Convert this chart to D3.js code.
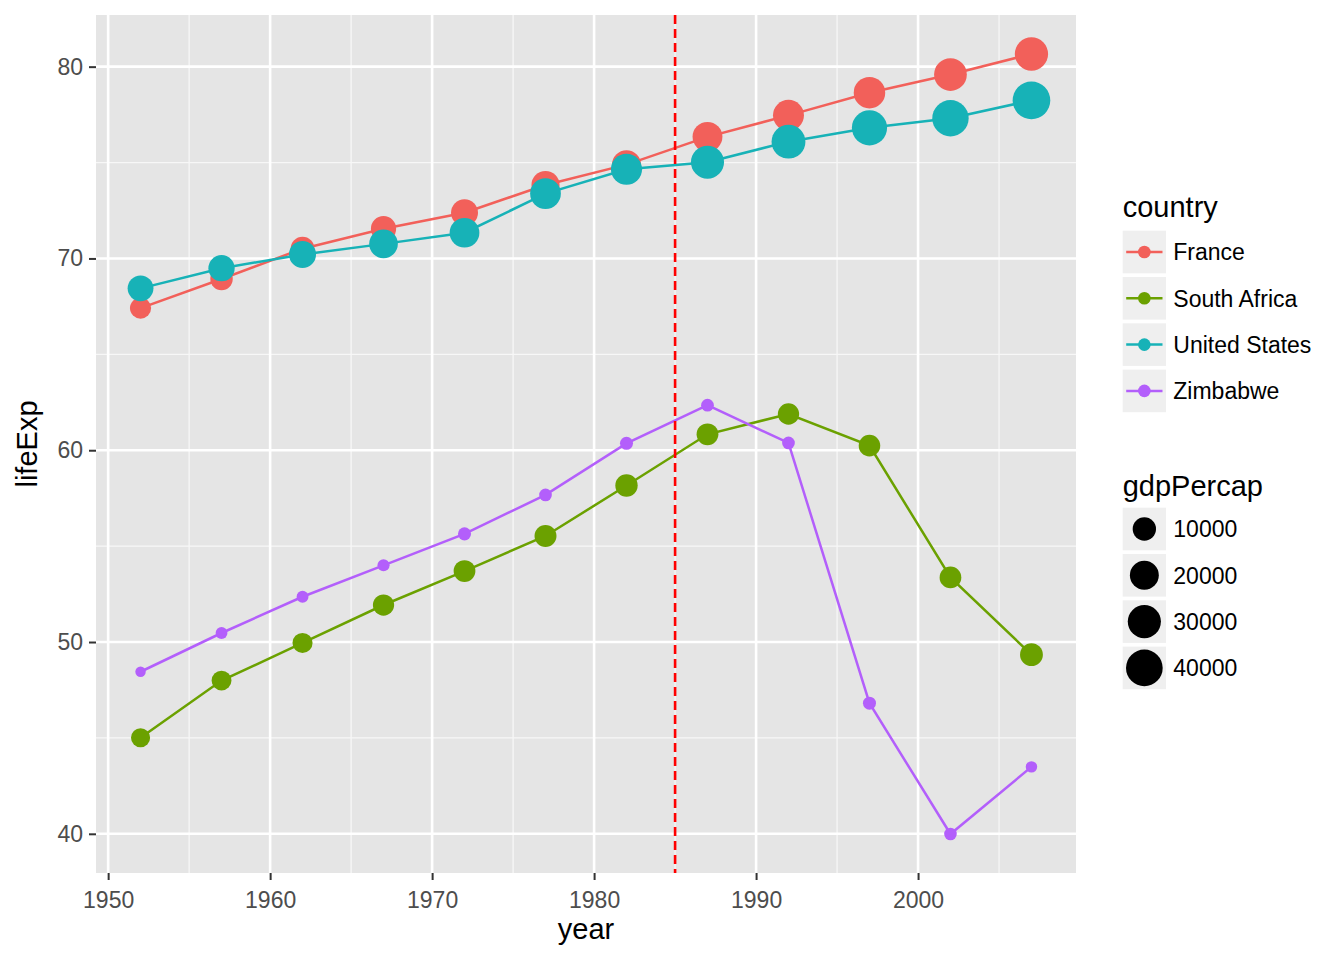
<!DOCTYPE html>
<html>
<head>
<meta charset="utf-8">
<script src="https://cdn.jsdelivr.net/npm/d3@7"></script>
<style>
  body { margin: 0; background: #fff; }
  text { font-family: "Liberation Sans", Arial, sans-serif; }
  .tick text { fill: #4D4D4D; font-size: 23px; }
  .tick line { stroke: #333333; stroke-width: 2px; }
</style>
</head>
<body>
<div id="chart"></div>
<script>
var svgWidth = 1344;
var svgHeight = 960;

// gapminder data, one array per series
var years = [1952, 1957, 1962, 1967, 1972, 1977, 1982, 1987, 1992, 1997, 2002, 2007];
var countries = ["France", "South Africa", "United States", "Zimbabwe"];
var colors = ["#F2605A", "#6BA100", "#17B2B7", "#B35FFB"];

var lifeExpFrance = [67.41, 68.93, 70.51, 71.55, 72.38, 73.83, 74.89, 76.34, 77.46, 78.64, 79.59, 80.66];
var lifeExpSouthAfrica = [45.01, 47.99, 49.95, 51.93, 53.70, 55.53, 58.16, 60.83, 61.89, 60.24, 53.37, 49.34];
var lifeExpUS = [68.44, 69.49, 70.21, 70.76, 71.34, 73.38, 74.65, 75.02, 76.09, 76.81, 77.31, 78.24];
var lifeExpZimbabwe = [48.45, 50.47, 52.36, 54.00, 55.64, 57.67, 60.36, 62.35, 60.38, 46.81, 39.99, 43.49];

var gdpFrance = [7030, 8663, 10560, 13000, 16107, 18293, 20294, 22066, 24704, 25890, 28926, 30470];
var gdpSouthAfrica = [4725, 5487, 5769, 7114, 7766, 8029, 8568, 7826, 7225, 7479, 7711, 9270];
var gdpUS = [13990, 14847, 16173, 19530, 21806, 24073, 25010, 29884, 32004, 35767, 39097, 42952];
var gdpZimbabwe = [407, 519, 527, 570, 799, 686, 789, 706, 693, 792, 672, 470];

var sizeBreaks = [10000, 20000, 30000, 40000];
var xTicks = [1950, 1960, 1970, 1980, 1990, 2000];
var yTicks = [40, 50, 60, 70, 80];
var vlineYear = 1985;

var lifeExps = [lifeExpFrance, lifeExpSouthAfrica, lifeExpUS, lifeExpZimbabwe];
var gdps = [gdpFrance, gdpSouthAfrica, gdpUS, gdpZimbabwe];

var series = countries.map(function(c, i) {
  return {
    country: c,
    color: colors[i],
    values: years.map(function(yr, j) {
      return { year: yr, lifeExp: lifeExps[i][j], gdp: gdps[i][j] };
    })
  };
});

var panel = { left: 96, right: 1076, top: 15, bottom: 873 };

var svg = d3.select("#chart")
  .append("svg")
  .attr("width", svgWidth)
  .attr("height", svgHeight);

// scales with ggplot-style 5% padding
function padded(ext) {
  var pad = (ext[1] - ext[0]) * 0.05;
  return [ext[0] - pad, ext[1] + pad];
}
var allLife = d3.merge(lifeExps);
var allGdp = d3.merge(gdps);

var xScale = d3.scaleLinear()
  .domain(padded(d3.extent(years)))
  .range([panel.left, panel.right]);

var yScale = d3.scaleLinear()
  .domain(padded(d3.extent(allLife)))
  .range([panel.bottom, panel.top]);

// area-style size scale: gdp -> [0,1] -> sqrt -> ggplot size 1..6
var gdpNorm = d3.scaleLinear().domain(d3.extent(allGdp)).range([0, 1]);
var sizeScale = d3.scaleSqrt().domain([0, 1]).range([1, 6]);
function radius(g) {
  return 2.72 * sizeScale(gdpNorm(g)) + 2.5;
}

// panel background
svg.append("rect")
  .attr("x", panel.left)
  .attr("y", panel.top)
  .attr("width", panel.right - panel.left)
  .attr("height", panel.bottom - panel.top)
  .attr("fill", "#E5E5E5");

// minor gridlines
var xMinor = xTicks.map(function(t) { return t + 5; }).filter(function(t) { return xScale(t) < panel.right; });
var yMinor = yTicks.map(function(t) { return t + 5; }).filter(function(t) { return yScale(t) > panel.top; });

var grid = svg.append("g");
grid.selectAll(".xminor").data(xMinor).enter().append("line")
  .attr("x1", d => xScale(d)).attr("x2", d => xScale(d))
  .attr("y1", panel.top).attr("y2", panel.bottom)
  .attr("stroke", "#F7F7F7").attr("stroke-width", 1.3);
grid.selectAll(".yminor").data(yMinor).enter().append("line")
  .attr("y1", d => yScale(d)).attr("y2", d => yScale(d))
  .attr("x1", panel.left).attr("x2", panel.right)
  .attr("stroke", "#F7F7F7").attr("stroke-width", 1.3);

// major gridlines
grid.selectAll(".xmajor").data(xTicks).enter().append("line")
  .attr("x1", d => xScale(d)).attr("x2", d => xScale(d))
  .attr("y1", panel.top).attr("y2", panel.bottom)
  .attr("stroke", "#fff").attr("stroke-width", 2.6);
grid.selectAll(".ymajor").data(yTicks).enter().append("line")
  .attr("y1", d => yScale(d)).attr("y2", d => yScale(d))
  .attr("x1", panel.left).attr("x2", panel.right)
  .attr("stroke", "#fff").attr("stroke-width", 2.6);

// axes
var bottomAxis = d3.axisBottom(xScale).tickValues(xTicks).tickSize(7).tickPadding(5).tickFormat(d3.format("d"));
var leftAxis = d3.axisLeft(yScale).tickValues(yTicks).tickSize(7).tickPadding(6);

var xAxis = svg.append("g")
  .attr("transform", `translate(0, ${panel.bottom})`)
  .call(bottomAxis);
xAxis.select(".domain").remove();
xAxis.selectAll(".tick text").attr("dy", "1.0em");

var yAxis = svg.append("g")
  .attr("transform", `translate(${panel.left}, 0)`)
  .call(leftAxis);
yAxis.select(".domain").remove();

// lines
var line = d3.line()
  .x(d => xScale(d.year))
  .y(d => yScale(d.lifeExp));

svg.append("g").selectAll("path")
  .data(series)
  .enter()
  .append("path")
  .attr("d", d => line(d.values))
  .attr("fill", "none")
  .attr("stroke", d => d.color)
  .attr("stroke-width", 2.5);

// points
var pointGroups = svg.append("g").selectAll("g")
  .data(series)
  .enter()
  .append("g")
  .attr("fill", d => d.color);

pointGroups.selectAll("circle")
  .data(d => d.values)
  .enter()
  .append("circle")
  .attr("cx", d => xScale(d.year))
  .attr("cy", d => yScale(d.lifeExp))
  .attr("r", d => radius(d.gdp));

// vertical dashed line
svg.append("line")
  .attr("x1", xScale(vlineYear)).attr("x2", xScale(vlineYear))
  .attr("y1", panel.top).attr("y2", panel.bottom)
  .attr("stroke", "#FF0000")
  .attr("stroke-width", 2.6)
  .attr("stroke-dasharray", "9,5");

// axis titles
svg.append("text")
  .attr("x", (panel.left + panel.right) / 2)
  .attr("y", 939)
  .attr("text-anchor", "middle")
  .attr("font-size", "29px")
  .text("year");

svg.append("text")
  .attr("transform", `translate(37, ${(panel.top + panel.bottom) / 2}) rotate(-90)`)
  .attr("text-anchor", "middle")
  .attr("font-size", "29px")
  .text("lifeExp");

// legends
var legendX = 1122.7;
var keyW = 43.3, keyH = 42.6, keyStep = 46.3;

var countryLegend = svg.append("g");
countryLegend.append("text")
  .attr("x", legendX).attr("y", 217)
  .attr("font-size", "29px")
  .text("country");

var cItems = countryLegend.selectAll(".citem")
  .data(series)
  .enter()
  .append("g")
  .attr("transform", (d, i) => `translate(${legendX}, ${230.7 + i * keyStep})`);

cItems.append("rect")
  .attr("width", keyW).attr("height", keyH)
  .attr("fill", "#EFEFEF");
cItems.append("line")
  .attr("x1", 3.5).attr("x2", keyW - 3.5)
  .attr("y1", keyH / 2).attr("y2", keyH / 2)
  .attr("stroke", d => d.color)
  .attr("stroke-width", 2.5);
cItems.append("circle")
  .attr("cx", keyW / 2).attr("cy", keyH / 2)
  .attr("r", 6.3)
  .attr("fill", d => d.color);
cItems.append("text")
  .attr("x", 50.6).attr("y", keyH / 2)
  .attr("dy", "0.36em")
  .attr("font-size", "23px")
  .text(d => d.country);

var sizeLegend = svg.append("g");
sizeLegend.append("text")
  .attr("x", legendX).attr("y", 496)
  .attr("font-size", "29px")
  .text("gdpPercap");

var sItems = sizeLegend.selectAll(".sitem")
  .data(sizeBreaks)
  .enter()
  .append("g")
  .attr("transform", (d, i) => `translate(${legendX}, ${507.7 + i * keyStep})`);

sItems.append("rect")
  .attr("width", keyW).attr("height", keyH)
  .attr("fill", "#EFEFEF");
sItems.append("circle")
  .attr("cx", keyW / 2).attr("cy", keyH / 2)
  .attr("r", d => radius(d))
  .attr("fill", "#000");
sItems.append("text")
  .attr("x", 50.6).attr("y", keyH / 2)
  .attr("dy", "0.36em")
  .attr("font-size", "23px")
  .text(d => d);
</script>
</body>
</html>
